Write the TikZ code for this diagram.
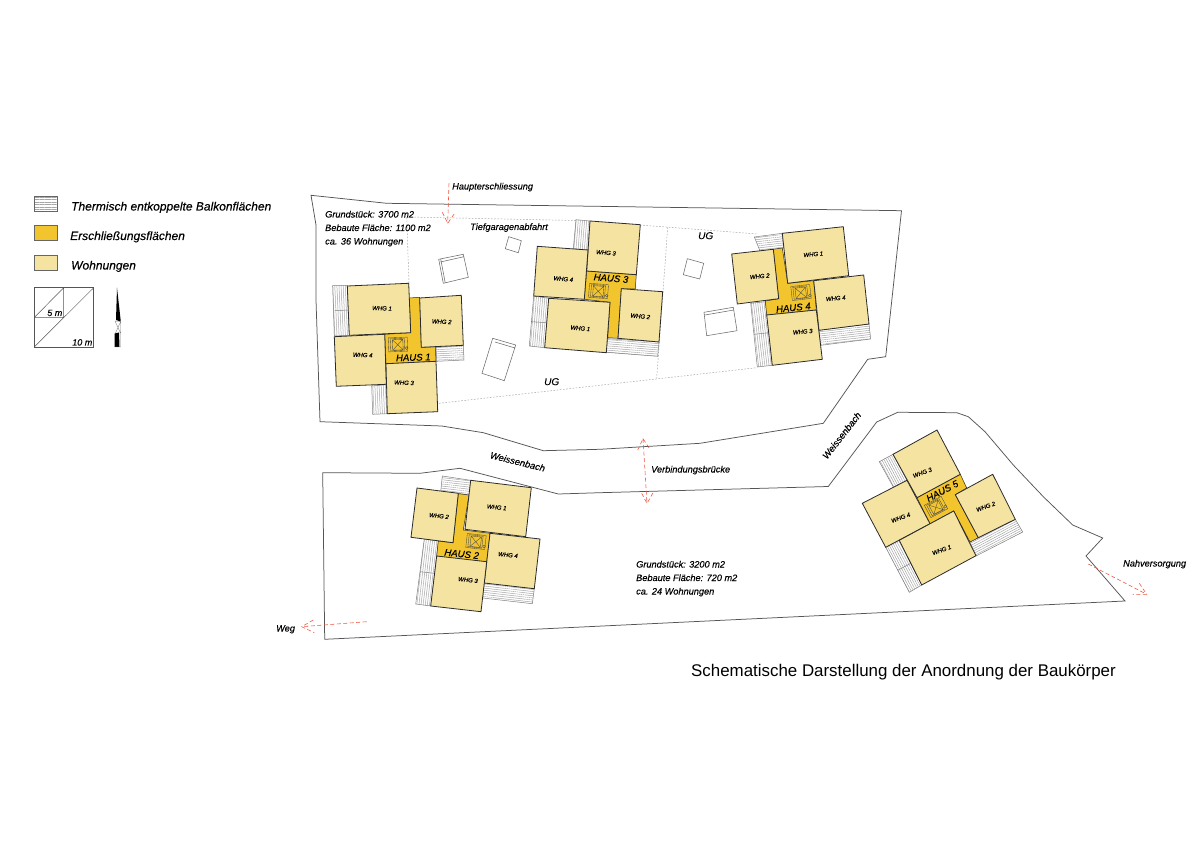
\documentclass[tikz,border=0pt]{standalone}
\usepackage{fontspec}
\setmainfont{Liberation Sans}[ItalicFeatures={FakeBold=0.2}]
\usetikzlibrary{patterns.meta}
\definecolor{wohn}{HTML}{F5E3A1}
\definecolor{ersch}{HTML}{F2C52E}
\definecolor{hatch}{HTML}{A6A6A6}
\definecolor{edge}{HTML}{2B2B2B}
\definecolor{site}{HTML}{555555}
\definecolor{pfeil}{HTML}{F0503C}
\newcommand{\fs}[1]{\fontsize{#1}{#1}\selectfont\itshape}
\newcommand{\balc}[2]{\draw[balcline,pattern={Lines[angle=#1,distance=2.1pt,line width=.5pt]},pattern color=hatch] #2;}
\newcommand{\stair}[3]{\begin{scope}[shift={(#1,#2)},rotate=#3]
 \draw[stairline] (-9.5,-7) rectangle (9.5,7);
 \draw[stairline] (-7.5,-6) rectangle (6.5,6);
 \draw[stairline] (-5.5,-5) rectangle (5,5.5) (-5.5,-5) -- (5,5.5) (-5.5,5.5) -- (5,-5);
 \draw[stairline] (8.5,4) circle (1.4);
\end{scope}}
\tikzset{
 balcline/.style={draw=edge!60!white,line width=.5pt},
 stairline/.style={draw=edge!85!white,line width=.35pt},
 wohnung/.style={draw=edge,line width=.8pt,fill=wohn},
 kern/.style={draw=edge,line width=.5pt,fill=ersch},
 sitepath/.style={draw=site,line width=.75pt,line join=miter},
 ug/.style={draw=hatch,line width=.5pt,dash pattern=on 1.6pt off 1.6pt},
 box/.style={draw=gray!85!black,line width=.55pt},
 arrowline/.style={draw=pfeil,line width=.55pt,dash pattern=on 4pt off 2.5pt},
 txt/.style={inner sep=0pt,anchor=base west,font=\fs{9.2}},
 ctr/.style={inner sep=0pt,anchor=center,font=\fs{9.2}},
 whg/.style={inner sep=0pt,anchor=center,font=\fs{6}},
 haus/.style={inner sep=0pt,anchor=center,font=\fs{9.6}},
 swatch/.style={draw=gray!80!black,line width=.7pt},
 scaleline/.style={draw=edge!80!white,line width=.5pt},
}
\begin{document}
\begin{tikzpicture}[x=1pt,y=-1pt]
\useasboundingbox (0,0) rectangle (1200,850);
\fill[white] (0,0) rectangle (1200,850);

% legend
\draw[swatch,pattern={Lines[angle=0,distance=2.4pt,line width=.5pt]},pattern color=hatch] (34.3,196) rectangle (57.7,211);
\draw[swatch,fill=ersch] (34.3,225.7) rectangle (57.7,240.7);
\draw[swatch,fill=wohn] (34.3,255.3) rectangle (57.7,270.3);
\node[txt,font=\fs{12}] (l1) at (71,210.5) {Thermisch entkoppelte Balkonflächen};
\node[txt,font=\fs{12}] (l2) at (70,240) {Erschließungsflächen};
\node[txt,font=\fs{12}] (l3) at (71,269.5) {Wohnungen};
\draw[scaleline] (34.3,287.7) rectangle (93.7,347);
\draw[scaleline] (34.3,347) -- (93.7,287.7) (34.3,317.5) -- (63.7,287.7) (34.3,317.5) -- (63.7,317.5) (63.7,287.7) -- (63.7,317.5);
\node[txt,anchor=base east,font=\fs{9}] (s5) at (62.5,316) {5 m};
\node[txt,anchor=base east,font=\fs{9}] (s10) at (92.5,345.5) {10 m};
% north arrow
\fill[black] (117,287.7) -- (120.8,321.5) -- (116,320) -- cycle;
\fill[black] (114.5,333.5) -- (119,332.5) -- (119.5,347) -- (114.5,347) -- cycle;
\draw[gray,line width=.35pt] (115,321) -- (120.8,321.5) -- (120.8,347) -- (114.5,347) (115,321) -- (120.5,333) (120.5,322) -- (115.5,333);

% site boundaries
\draw[sitepath] (311,195.3) -- (386.7,203.3) -- (901.5,210.7) -- (885.7,356.7) -- (867.7,359.3) -- (823.3,423.3) -- (700,443.3) -- (600,449.3) -- (543.3,450.7) -- (483.3,432.7) -- (441.7,426) -- (320,421.7) -- (316,300) -- (316,225) -- cycle;
\draw[sitepath] (322.7,472.7) -- (420,473.3) -- (460,468.3) -- (558.3,494) -- (600,492.7) -- (828.3,486.5) -- (876.7,422) -- (897.7,412.3) -- (956.7,412.7) -- (968.3,416.7) -- (985,431.7) -- (1013.3,465) -- (1043.3,496.7) -- (1072.7,525) -- (1102.7,538) -- (1086,556) -- (1125,601) -- (324.7,639.3) -- cycle;

% underground outline
\draw[ug] (409,283) -- (406.7,217) -- (576,220.5);
\draw[ug] (640,225) -- (757,234);
\draw[ug] (667.7,227.3) -- (656.7,378);
\draw[ug] (439,403.3) -- (756.7,367.7);

% small roof squares
\draw[box] (438.7,259.3) -- (463.3,254.3) -- (468.3,277.3) -- (443.3,283.3) -- cycle (440.5,262) -- (463.8,256.7);
\draw[box] (440.7,258.9) -- (445.2,282.8);
\draw[box] (508.7,236.7) -- (521.3,240.7) -- (518.3,252.7) -- (505.3,248.7) -- cycle;
\draw[box] (687.3,258.7) -- (703.7,263.3) -- (699.7,279) -- (683.3,274.7) -- cycle;
\draw[box] (704,312.3) -- (733.3,307.3) -- (737,330.7) -- (706.7,335.7) -- cycle (705,315) -- (733.8,310);
\draw[box] (492.7,338.3) -- (515.7,345) -- (504.3,380.7) -- (482,373.3) -- cycle (495,342) -- (515,348);

% HAUS 1
\balc{92.5}{(332.7,285.7) -- (347.3,285.3) -- (349.3,335.3) -- (334.3,336) -- cycle (335,310.7) -- (348.3,310)}
\balc{2.5}{(436,347.3) -- (463.3,345.3) -- (464,360) -- (436.7,361.3) -- cycle}
\balc{92.5}{(371.7,386) -- (386.3,384.7) -- (387.3,413.7) -- (372.7,414.3) -- cycle}
\draw[kern] (409.3,298) -- (419.7,297.3) -- (421.3,347.3) -- (435.3,346.7) -- (436,361.3) -- (386,363.7) -- (384.7,334.3) -- (410.7,332.7) -- cycle;
\stair{398}{344.5}{2.5}
\draw[wohnung] (347.3,286) -- (408.7,283.3) -- (410.7,332.7) -- (349.3,335.3) -- cycle;
\draw[wohnung] (419.7,298) -- (461.3,295.3) -- (463.3,345.3) -- (421.3,347.3) -- cycle;
\draw[wohnung] (334.3,336.7) -- (384.7,334.3) -- (386.3,384.3) -- (336.3,386.3) -- cycle;
\draw[wohnung] (386,363.7) -- (436,361.3) -- (437.7,411.7) -- (387.3,413.7) -- cycle;
\node[whg,rotate=-2] (a1) at (382,308.3) {WHG 1};
\node[whg,rotate=-2] (a2) at (441.7,321.7) {WHG 2};
\node[whg,rotate=-2] (a3) at (404,382.7) {WHG 3};
\node[whg,rotate=-2] (a4) at (362.7,355) {WHG 4};
\node[haus,rotate=2] (h1) at (413.3,357.5) {HAUS 1};

% HAUS 3
\balc{85.5}{(576,219.7) -- (590,221) -- (587.7,250) -- (573.3,248.7) -- cycle}
\balc{85.5}{(533.7,296) -- (548.7,298.3) -- (544.7,347.7) -- (529.3,346) -- cycle (531,321.7) -- (546.7,322.7)}
\balc{-4.5}{(607.7,338.7) -- (659,342) -- (657.7,356.3) -- (606,352.3) -- cycle}
\draw[kern] (586.7,271) -- (636.3,274.7) -- (635.3,289) -- (621.3,288.7) -- (618,338.3) -- (607.7,337.7) -- (610,302.3) -- (584.3,299.3) -- cycle;
\stair{598.5}{291}{-4.5}
\draw[wohnung] (590,221) -- (640.3,224.7) -- (636.3,274.7) -- (586.7,271) -- cycle;
\draw[wohnung] (537.3,246.3) -- (588,250) -- (584.3,299.3) -- (533.7,296) -- cycle;
\draw[wohnung] (548.7,298.3) -- (610,302.3) -- (606.3,352.7) -- (544.7,347.7) -- cycle;
\draw[wohnung] (621.3,288.7) -- (662.7,291.7) -- (659,342) -- (618,338.3) -- cycle;
\node[whg,rotate=-5] (b3) at (606,252.7) {WHG 3};
\node[whg,rotate=-5] (b4) at (563.3,279) {WHG 4};
\node[whg,rotate=-5] (b1) at (580.3,328.3) {WHG 1};
\node[whg,rotate=-5] (b2) at (640.3,316.3) {WHG 2};
\node[haus,rotate=-4.5] (h3) at (611,278.3) {HAUS 3};

% HAUS 4
\balc{6.5}{(754.3,237) -- (782.3,233.3) -- (783.5,248) -- (760,251) -- cycle}
\balc{96.5}{(750.7,303.3) -- (765.3,301.7) -- (772.3,365.3) -- (757.3,367) -- cycle (754.3,334.3) -- (769,332.7)}
\balc{6.5}{(819,330.3) -- (869,324) -- (870.7,339) -- (820.7,345.3) -- cycle}
\draw[kern] (773.3,249.3) -- (782.3,248) -- (787.7,283.3) -- (813.7,280.7) -- (816.3,310) -- (766.7,315) -- (765.3,301) -- (778.7,298.7) -- cycle;
\stair{801}{292.5}{6.5}
\draw[wohnung] (782.3,233.3) -- (843.3,226.7) -- (848.7,275.7) -- (787.7,283.3) -- cycle;
\draw[wohnung] (731.7,254) -- (773.3,249.3) -- (778.7,298.7) -- (737.3,304) -- cycle;
\draw[wohnung] (813.7,280.7) -- (863.7,275) -- (869,324) -- (819,330.3) -- cycle;
\draw[wohnung] (766.7,315) -- (816.3,310) -- (822.3,359.3) -- (772.3,365.3) -- cycle;
\node[whg,rotate=5] (c1) at (813.3,254.3) {WHG 1};
\node[whg,rotate=5] (c2) at (759.7,276.3) {WHG 2};
\node[whg,rotate=5] (c4) at (835.7,298.3) {WHG 4};
\node[whg,rotate=5] (c3) at (802.7,331.7) {WHG 3};
\node[haus,rotate=6] (h4) at (793.3,307.7) {HAUS 4};

% HAUS 2
\balc{-6.5}{(442.3,476) -- (470.7,480.3) -- (469,495) -- (458.3,493.3) -- (440.7,491.7) -- cycle}
\balc{83.5}{(424.3,539) -- (438.3,541) -- (430.7,606) -- (415.7,604) -- cycle (420,571.7) -- (434.3,573.3)}
\balc{-6.5}{(484.3,583) -- (534.3,588.7) -- (532.3,603.7) -- (482.7,598) -- cycle}
\draw[kern] (458.3,493.7) -- (469,495) -- (463.3,530) -- (490,533.3) -- (486.7,562) -- (436.7,556.3) -- (438.3,541) -- (453,542.7) -- cycle;
\stair{476}{541.5}{-6.5}
\draw[wohnung] (470.7,480.3) -- (531.3,487.7) -- (525.7,536.7) -- (465,529.3) -- cycle;
\draw[wohnung] (417,488) -- (458.3,493.3) -- (453,542.7) -- (411,537.3) -- cycle;
\draw[wohnung] (490,533.3) -- (540,539) -- (534.3,588.7) -- (484.3,583) -- cycle;
\draw[wohnung] (436.7,556) -- (486.7,561.7) -- (481,611.7) -- (430.7,606) -- cycle;
\node[whg,rotate=-6] (d1) at (496.7,507.3) {WHG 1};
\node[whg,rotate=-6] (d2) at (439,516) {WHG 2};
\node[whg,rotate=-6] (d4) at (508,555) {WHG 4};
\node[whg,rotate=-6] (d3) at (468,580) {WHG 3};
\node[haus,rotate=-6] (h2) at (461.7,554) {HAUS 2};

% HAUS 5
\balc{118}{(879.3,461.7) -- (893,454.3) -- (907,480.3) -- (893.7,487.7) -- cycle}
\balc{118}{(885.7,547.3) -- (899.3,540.3) -- (921.7,585) -- (909.3,592.3) -- cycle (897.7,570.3) -- (910.7,563.3)}
\balc{28}{(970,542) -- (1015.3,519.3) -- (1022.7,532) -- (976,556) -- cycle}
\draw[kern] (917,497.7) -- (960.3,474.3) -- (966.7,488) -- (955.3,494.7) -- (978.3,537.7) -- (970,542) -- (953.7,511) -- (930,523.7) -- cycle;
\stair{936}{507}{28}
\draw[wohnung] (893,454.3) -- (937,430) -- (960.3,474.3) -- (917,497.7) -- cycle;
\draw[wohnung] (862.3,503.3) -- (907,480.3) -- (930,523.7) -- (885.7,547.3) -- cycle;
\draw[wohnung] (899.3,540.3) -- (953.7,511) -- (976,555.7) -- (921.7,585) -- cycle;
\draw[wohnung] (955.3,494.7) -- (992.7,474.3) -- (1015.3,519.3) -- (978.3,537.7) -- cycle;
\node[whg,rotate=20] (e3) at (922.3,472.7) {WHG 3};
\node[whg,rotate=20] (e4) at (900.7,517.7) {WHG 4};
\node[whg,rotate=20] (e1) at (941.7,550) {WHG 1};
\node[whg,rotate=20] (e2) at (985.7,506.7) {WHG 2};
\node[haus,rotate=28] (h5) at (942.3,491) {HAUS 5};

% arrows
\coordinate (p1a) at (449,183.3); \coordinate (p1b) at (447.7,223.3);
\draw[arrowline] (p1a) -- (p1b) (442.3,212.3) -- (p1b) -- (455,212.7);
\coordinate (p2a) at (643,438.7); \coordinate (p2b) at (647,503.5);
\draw[arrowline] (p2a) -- (p2b) (637.7,450) -- (p2a) -- (649.3,448.3) (641.7,493.3) -- (p2b) -- (654,491);
\coordinate (p3a) at (366.7,621.7); \coordinate (p3b) at (301.7,626.7);
\draw[arrowline] (p3a) -- (p3b) (313.3,620) -- (p3b) -- (314.3,632.7);
\coordinate (p4a) at (1088.3,564); \coordinate (p4b) at (1146.7,594.3);
\draw[arrowline] (p4a) -- (p4b) (1139.3,583.3) -- (p4b) -- (1132.7,594.3);

% labels
\node[txt] (t1) at (325,217.5) {Grundstück: 3700 m2};
\node[txt] (t2) at (325,231) {Bebaute Fläche: 1100 m2};
\node[txt] (t3) at (325,244.5) {ca. 36 Wohnungen};
\node[txt] (t4) at (636,567.5) {Grundstück: 3200 m2};
\node[txt] (t5) at (636,581) {Bebaute Fläche: 720 m2};
\node[txt] (t6) at (636,594.5) {ca. 24 Wohnungen};
\node[txt] (t7) at (452,189.5) {Haupterschliessung};
\node[txt] (t8) at (470,230) {Tiefgaragenabfahrt};
\node[txt] (t9) at (651,472.5) {Verbindungsbrücke};
\node[txt] (t10) at (1123,566.5) {Nahversorgung};
\node[txt] (t11) at (276,631.5) {Weg};
\node[ctr,font=\fs{10}] (u1) at (705.7,235.7) {UG};
\node[ctr,font=\fs{10}] (u2) at (551.7,381.7) {UG};
\node[ctr,rotate=-14,font=\fs{9.4}] (w1) at (517.7,461.7) {Weissenbach};
\node[ctr,rotate=52,font=\fs{9.4}] (w2) at (841.7,435.5) {Weissenbach};
\node[inner sep=0pt,anchor=base west,font=\fontsize{16.9}{16.9}\selectfont] (title) at (691,676) {Schematische Darstellung der Anordnung der Baukörper};
\end{tikzpicture}
\end{document}
